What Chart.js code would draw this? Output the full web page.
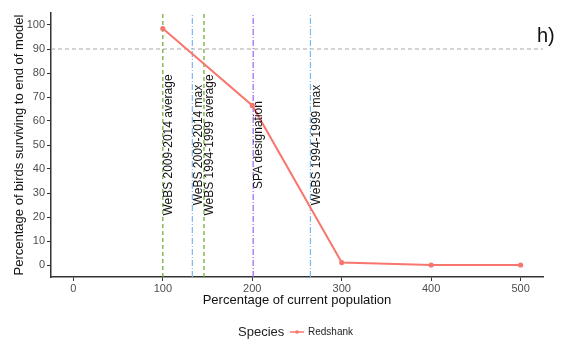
<!DOCTYPE html>
<html>
<head>
<meta charset="utf-8">
<script src="https://cdn.jsdelivr.net/npm/chart.js@4"></script>
<style>
  html, body { margin: 0; padding: 0; background: #fff; }
  #wrap { width: 563px; height: 342px; }
</style>
</head>
<body>
<div id="wrap"><canvas id="myChart" width="563" height="342"></canvas></div>
<script>
// data
const populationPct = [100, 200, 300, 400, 500];
const survivalPct = [98.5, 66.5, 1, 0, 0];
const refLineX = [100, 133, 146, 201, 265];
const refLineLabels = ['WeBS 2009-2014 average', 'WeBS 2009-2014 max', 'WeBS 1994-1999 average', 'SPA designation', 'WeBS 1994-1999 max'];
const thresholdY = 90;
const xTicks = [0, 100, 200, 300, 400, 500];
const yTicks = [0, 10, 20, 30, 40, 50, 60, 70, 80, 90, 100];

const refColors = ['#6aaa2a', '#7ab8f0', '#6aaa2a', '#a060f0', '#7ab8f0'];
const refDashes = [[4, 3], [6, 2, 1, 2], [4, 3], [6, 2, 1, 2], [6, 2, 1, 2]];
const FONT = '"Liberation Sans", Arial, sans-serif';

const refDatasets = refLineX.map((x, i) => ({
    label: refLineLabels[i],
    data: [{x: x, y: -5}, {x: x, y: 105}],
    borderColor: refColors[i],
    borderWidth: 1.2,
    borderDash: refDashes[i],
    pointRadius: 0,
    order: 2
}));

const annot = {
    id: 'annot',
    afterDatasetsDraw(chart) {
        const {ctx, scales: {x, y}} = chart;
        ctx.save();
        ctx.font = '12px ' + FONT;
        ctx.fillStyle = '#111';
        ctx.textAlign = 'center';
        ctx.textBaseline = 'middle';
        refLineX.forEach((v, i) => {
            ctx.save();
            ctx.translate(x.getPixelForValue(v) + 6, y.getPixelForValue(50));
            ctx.rotate(-Math.PI / 2);
            ctx.fillText(refLineLabels[i], 0, 0);
            ctx.restore();
        });
        // panel letter
        ctx.font = '20px ' + FONT;
        ctx.textAlign = 'left';
        ctx.fillText('h)', 537, 36);
        // legend
        ctx.font = '13px ' + FONT;
        ctx.fillStyle = '#222';
        ctx.fillText('Species', 238, 332);
        ctx.strokeStyle = '#F8766D';
        ctx.lineWidth = 1.5;
        ctx.beginPath();
        ctx.moveTo(290, 332); ctx.lineTo(304, 332); ctx.stroke();
        ctx.fillStyle = '#F8766D';
        ctx.beginPath(); ctx.arc(297, 332, 1.8, 0, Math.PI * 2); ctx.fill();
        ctx.fillStyle = '#222';
        ctx.font = '10px ' + FONT;
        ctx.fillText('Redshank', 308, 332);
        ctx.restore();
    }
};

var ctx = document.getElementById('myChart').getContext('2d');
var myChart = new Chart(ctx, {
    type: 'line',
    data: {
        datasets: [
            {
                label: 'Redshank',
                data: populationPct.map((p, i) => ({x: p, y: survivalPct[i]})),
                borderColor: '#F8766D',
                backgroundColor: '#F8766D',
                borderWidth: 2,
                pointRadius: 1.6,
                order: 0
            },
            {
                label: 'threshold',
                data: [{x: -25, y: thresholdY}, {x: 525, y: thresholdY}],
                borderColor: '#a8a8a8',
                borderWidth: 1.2,
                borderDash: [4, 3],
                pointRadius: 0,
                order: 3
            }
        ].concat(refDatasets)
    },
    options: {
        responsive: false,
        animation: false,
        layout: {padding: {top: 13, right: 20, left: 0, bottom: 33}},
        plugins: {legend: {display: false}, tooltip: {enabled: false}},
        scales: {
            x: {
                type: 'linear',
                min: -25, max: 525,
                afterBuildTicks: (s) => { s.ticks = xTicks.map(v => ({value: v})); },
                afterFit: (s) => { s.height = 32; },
                grid: {drawOnChartArea: false, drawTicks: true, tickLength: 4, color: '#333'},
                border: {display: true, color: '#333', width: 1.5},
                ticks: {color: '#4d4d4d', font: {family: FONT, size: 11}, padding: 1, maxRotation: 0},
                title: {display: true, text: 'Percentage of current population', color: '#111',
                        font: {family: FONT, size: 13}, padding: {top: 0, bottom: 1}}
            },
            y: {
                type: 'linear',
                min: -5, max: 105,
                afterBuildTicks: (s) => { s.ticks = yTicks.map(v => ({value: v})); },
                afterFit: (s) => { s.width = 51; },
                grid: {drawOnChartArea: false, drawTicks: true, tickLength: 4, color: '#333'},
                border: {display: true, color: '#333', width: 1.5},
                ticks: {color: '#4d4d4d', font: {family: FONT, size: 11}, padding: 2},
                title: {display: true, text: 'Percentage of birds surviving to end of model', color: '#111',
                        font: {family: FONT, size: 13}, padding: {top: 12, bottom: 0}}
            }
        }
    },
    plugins: [annot]
});
</script>
</body>
</html>
